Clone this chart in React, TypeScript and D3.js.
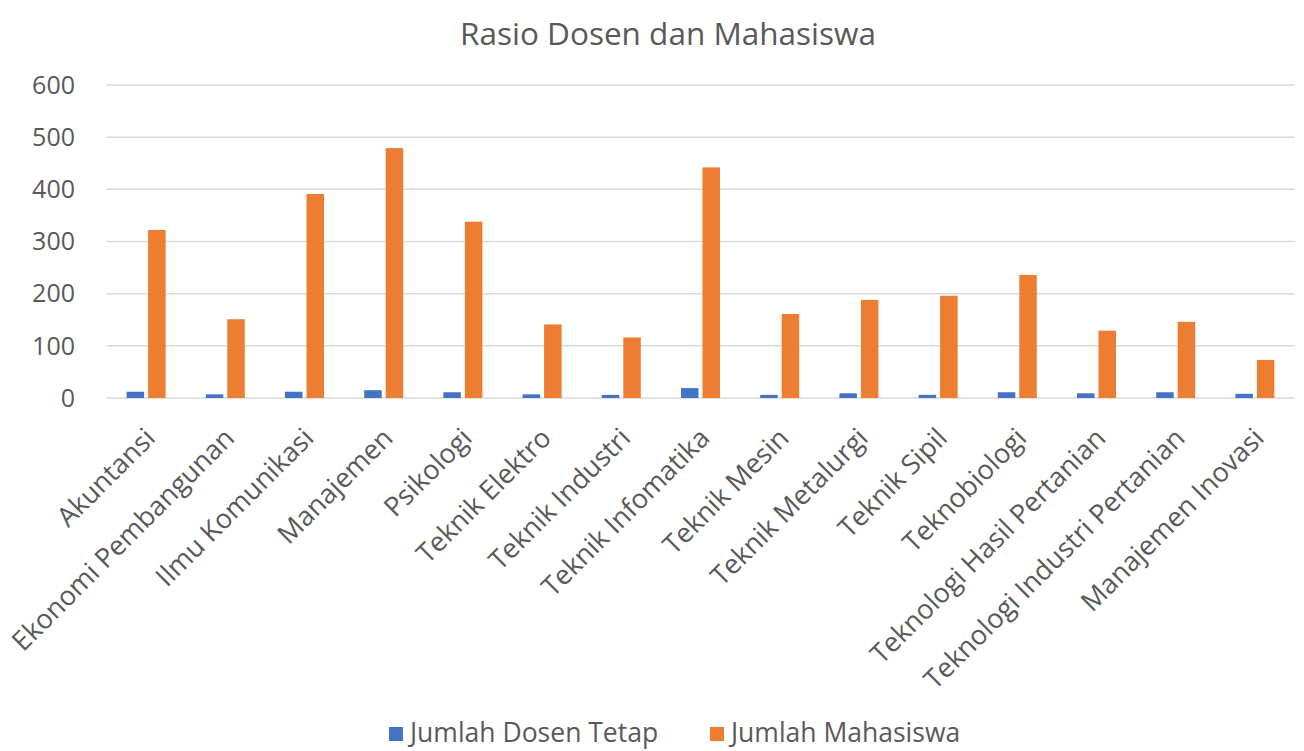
import React, { useEffect, useRef } from "react";
import * as d3 from "d3";

const categories = [
  "Akuntansi",
  "Ekonomi Pembangunan",
  "Ilmu Komunikasi",
  "Manajemen",
  "Psikologi",
  "Teknik Elektro",
  "Teknik Industri",
  "Teknik Infomatika",
  "Teknik Mesin",
  "Teknik Metalurgi",
  "Teknik Sipil",
  "Teknobiologi",
  "Teknologi Hasil Pertanian",
  "Teknologi Industri Pertanian",
  "Manajemen Inovasi",
];

const dosenTetap = [12, 7, 12, 15, 11, 7, 6, 19, 6, 9, 6, 11, 9, 11, 8];
const mahasiswa = [322, 151, 391, 479, 338, 141, 116, 442, 161, 188, 196, 236, 129, 146, 73];

const yTicks = [0, 100, 200, 300, 400, 500, 600];

const seriesNames = ["Jumlah Dosen Tetap", "Jumlah Mahasiswa"];
const seriesColors = ["#4472C4", "#ED7D31"];

const WIDTH = 1304;
const HEIGHT = 751;
const FONT = "'Open Sans', 'Noto Sans', sans-serif";
const TEXT_COLOR = "#595959";

const App: React.FC = () => {
  const svgRef = useRef<SVGSVGElement | null>(null);

  useEffect(() => {
    if (!svgRef.current) return;
    const svg = d3.select(svgRef.current);
    svg.selectAll("*").remove();

    const x = d3
      .scaleBand<string>()
      .domain(categories)
      .range([106.5, 1294.5]);
    const y = d3.scaleLinear().domain([0, 600]).range([398, 85]);

    const barW = 17.5;
    const gap = 4;

    // title
    svg
      .append("text")
      .attr("x", 668)
      .attr("y", 45)
      .attr("text-anchor", "middle")
      .style("font-family", FONT)
      .style("font-size", "31.5px")
      .style("fill", TEXT_COLOR)
      .text("Rasio Dosen dan Mahasiswa");

    // gridlines
    svg
      .append("g")
      .selectAll("line")
      .data(yTicks)
      .enter()
      .append("line")
      .attr("x1", x.range()[0])
      .attr("x2", x.range()[1])
      .attr("y1", (d) => y(d))
      .attr("y2", (d) => y(d))
      .attr("stroke", "#D9D9D9")
      .attr("stroke-width", 1.5);

    // y labels
    svg
      .append("g")
      .selectAll("text")
      .data(yTicks)
      .enter()
      .append("text")
      .attr("x", 75)
      .attr("y", (d) => y(d))
      .attr("dy", "0.35em")
      .attr("text-anchor", "end")
      .style("font-family", FONT)
      .style("font-size", "25px")
      .style("fill", TEXT_COLOR)
      .text((d) => d);

    const center = (c: string) => (x(c) ?? 0) + x.bandwidth() / 2;

    // bars
    const series = [dosenTetap, mahasiswa];
    series.forEach((vals, si) => {
      svg
        .append("g")
        .selectAll("rect")
        .data(categories)
        .enter()
        .append("rect")
        .attr("x", (c) =>
          si === 0 ? center(c) - gap / 2 - barW : center(c) + gap / 2
        )
        .attr("y", (c, i) => y(vals[i]))
        .attr("width", barW)
        .attr("height", (c, i) => y(0) - y(vals[i]))
        .attr("fill", seriesColors[si]);
    });

    // x labels
    svg
      .append("g")
      .selectAll("text")
      .data(categories)
      .enter()
      .append("text")
      .attr("transform", (c) => `translate(${center(c) - 3},${426}) rotate(-45)`)
      .attr("text-anchor", "end")
      .attr("dy", "0.72em")
      .style("font-family", FONT)
      .style("font-size", "27px")
      .style("fill", TEXT_COLOR)
      .text((c) => c);

    // legend
    const legendX = [389, 710];
    const lg = svg.append("g");
    seriesNames.forEach((name, i) => {
      lg.append("rect")
        .attr("x", legendX[i])
        .attr("y", 727)
        .attr("width", 14)
        .attr("height", 14)
        .attr("fill", seriesColors[i]);
      lg.append("text")
        .attr("x", legendX[i] + 21)
        .attr("y", 742)
        .style("font-family", FONT)
        .style("font-size", "26.5px")
        .style("fill", TEXT_COLOR)
        .text(name);
    });
  }, []);

  return (
    <svg
      ref={svgRef}
      width={WIDTH}
      height={HEIGHT}
      style={{ position: "absolute", left: 0, top: 0, background: "#fff" }}
    />
  );
};

export default App;
